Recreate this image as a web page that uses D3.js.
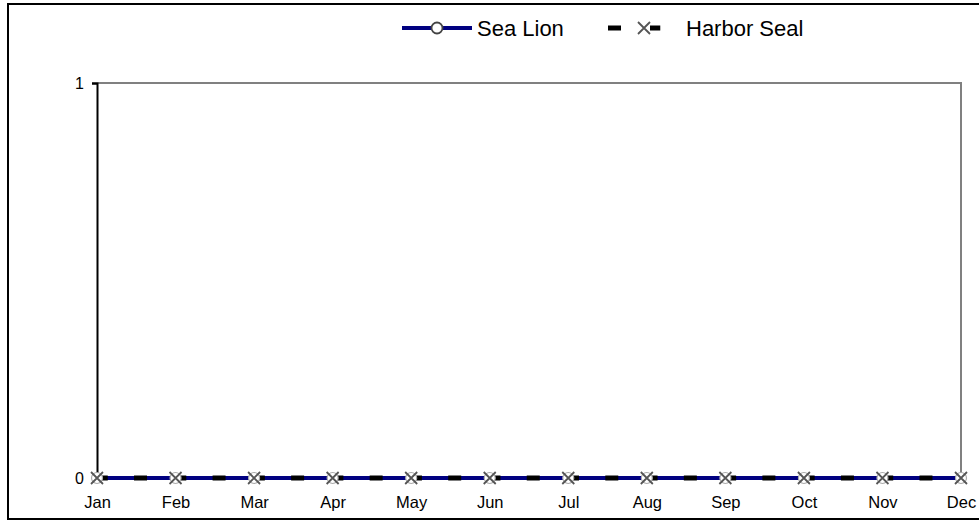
<!DOCTYPE html>
<html>
<head>
<meta charset="utf-8">
<script src="https://cdn.jsdelivr.net/npm/d3@7"></script>
<style>
  body { margin: 0; background: #fff; }
  text { font-family: Arial, "Liberation Sans", sans-serif; fill: #000; }
</style>
</head>
<body>
<div id="chart"></div>
<script>
// chart data
const months = ["Jan", "Feb", "Mar", "Apr", "May", "Jun", "Jul", "Aug", "Sep", "Oct", "Nov", "Dec"];
const seaLion = [0, 0, 0, 0, 0, 0, 0, 0, 0, 0, 0, 0];
const harborSeal = [0, 0, 0, 0, 0, 0, 0, 0, 0, 0, 0, 0];
const yTicks = [0, 1];

const W = 979, H = 521;
let margin = { top: 83, left: 97, right: 18, bottom: 43 },
    width = W - margin.left - margin.right,
    height = H - margin.top - margin.bottom;

let svg = d3.select("#chart").append("svg")
    .attr("width", W)
    .attr("height", H);

// outer frame
svg.append("rect")
    .attr("x", 8).attr("y", 4)
    .attr("width", W + 10).attr("height", 515)
    .attr("fill", "none").attr("stroke", "#000").attr("stroke-width", 2);

let g = svg.append("g").attr("transform", "translate(" + margin.left + "," + margin.top + ")");

let x = d3.scalePoint().domain(months).range([0, width]);
let y = d3.scaleLinear().domain([0, 1]).range([height, 0]);

// plot border (top + right in gray)
g.append("path")
    .attr("d", "M0,0H" + width + "V" + height)
    .attr("fill", "none").attr("stroke", "#808080").attr("stroke-width", 2);

// y axis
let yAxis = g.append("g")
    .call(d3.axisLeft(y).tickValues(yTicks).tickSize(5).tickPadding(8).tickFormat(d3.format("d")));
yAxis.select(".domain").attr("stroke", "#000").attr("stroke-width", 2);
yAxis.selectAll(".tick line").attr("stroke", "#000").attr("stroke-width", 2);
yAxis.selectAll(".tick text").style("font-size", "16px");

// x axis labels
let xAxis = g.append("g")
    .attr("transform", "translate(0," + height + ")")
    .call(d3.axisBottom(x).tickSize(0).tickPadding(18));
xAxis.select(".domain").remove();
xAxis.selectAll(".tick text").style("font-size", "16.5px");

let line = d3.line()
    .x(function(d, i) { return x(months[i]); })
    .y(function(d) { return y(d); });

// Sea Lion
g.append("path")
    .datum(seaLion)
    .attr("d", line)
    .attr("fill", "none").attr("stroke", "#000080").attr("stroke-width", 4);

// Harbor Seal dashes: two per month step
let step = x.step();
g.append("path")
    .datum(harborSeal)
    .attr("d", line)
    .attr("fill", "none").attr("stroke", "#000").attr("stroke-width", 5)
    .attr("stroke-dasharray", "13," + (step / 2 - 13))
    .attr("stroke-dashoffset", 2.25);

g.selectAll(".lion-mark")
    .data(seaLion)
    .enter().append("circle")
    .attr("class", "lion-mark")
    .attr("cx", function(d, i) { return x(months[i]); })
    .attr("cy", function(d) { return y(d); })
    .attr("r", 5.5)
    .attr("fill", "#fff").attr("stroke", "#aaa").attr("stroke-width", 1.2);

let cross = function(sel, s) {
    sel.append("path")
        .attr("d", "M" + -s + "," + -s + "L" + s + "," + s + "M" + -s + "," + s + "L" + s + "," + -s)
        .attr("stroke", "#555").attr("stroke-width", 1.8).attr("fill", "none");
};

let sealMarks = g.selectAll(".seal-mark")
    .data(harborSeal)
    .enter().append("g")
    .attr("class", "seal-mark")
    .attr("transform", function(d, i) { return "translate(" + x(months[i]) + "," + y(d) + ")"; });
cross(sealMarks, 6);

// legend
let legend = svg.append("g").attr("transform", "translate(0,28)");
legend.append("line")
    .attr("x1", 402).attr("x2", 472)
    .attr("stroke", "#000080").attr("stroke-width", 4);
legend.append("circle")
    .attr("cx", 437).attr("r", 5.5)
    .attr("fill", "#fff").attr("stroke", "#444").attr("stroke-width", 1.8);
legend.append("text")
    .attr("x", 477).attr("dy", "0.35em")
    .style("font-size", "22px")
    .text("Sea Lion");

legend.append("line")
    .attr("x1", 608).attr("x2", 678)
    .attr("stroke", "#000").attr("stroke-width", 5)
    .attr("stroke-dasharray", "13," + (step / 2 - 13));
let lx = legend.append("g").attr("transform", "translate(644,0)");
lx.append("rect").attr("x", -6).attr("y", -6).attr("width", 12).attr("height", 12).attr("fill", "#fff");
cross(lx, 6);
legend.append("text")
    .attr("x", 686).attr("dy", "0.35em")
    .style("font-size", "22px")
    .text("Harbor Seal");
</script>
</body>
</html>
